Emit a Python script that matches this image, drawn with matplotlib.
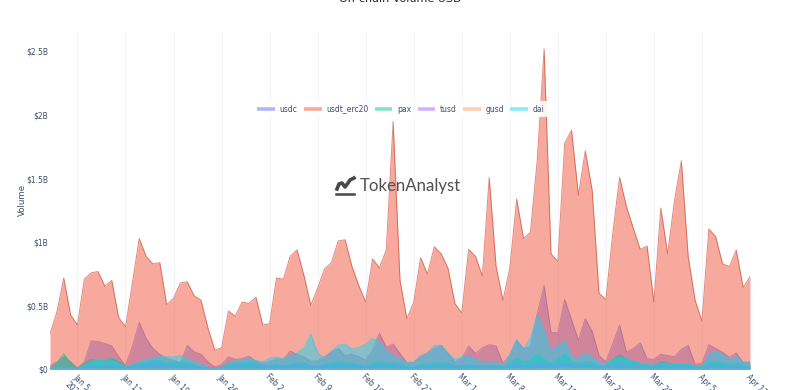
import matplotlib
matplotlib.use('Agg')
import matplotlib.pyplot as plt
import pandas as pd
from matplotlib.lines import Line2D
from matplotlib.transforms import ScaledTranslation

# Data (billions of USD, one value per day)
dates = pd.date_range('2020-01-01', '2020-04-12', freq='D')
tick_dates = pd.date_range('2020-01-05', '2020-04-12', freq='7D')
tick_labels = ['Jan 5\n2020', 'Jan 12', 'Jan 19', 'Jan 26', 'Feb 2', 'Feb 9', 'Feb 16', 'Feb 23',
               'Mar 1', 'Mar 8', 'Mar 15', 'Mar 22', 'Mar 29', 'Apr 5', 'Apr 12']
y_ticks = [0, 0.5, 1, 1.5, 2, 2.5]
y_labels = ['$0', '$0.5B', '$1B', '$1.5B', '$2B', '$2.5B']

usdc = [.03, .06, .10, .06, .01, .06, .225, .22, .205, .185,
        .10, .03, .18, .37, .245, .165, .12, .085, .075, .05,
        .19, .14, .12, .06, .02, .04, .10, .08, .085, .105,
        .065, .05, .06, .085, .08, .145, .12, .10, .065, .07,
        .10, .14, .165, .11, .12, .10, .075, .15, .285, .175,
        .20, .125, .055, .055, .10, .13, .165, .19, .125, .06,
        .085, .185, .125, .17, .195, .185, .05, .11, .23, .165,
        .18, .44, .66, .29, .29, .55, .39, .23, .40, .30,
        .11, .06, .205, .35, .135, .165, .21, .085, .08, .12,
        .11, .10, .16, .19, .04, .05, .195, .165, .135, .095,
        .13, .055, .06]
usdt_erc20 = [.28, .45, .72, .43, .35, .71, .76, .77, .655, .70,
              .41, .335, .68, 1.03, .89, .83, .84, .51, .56, .68,
              .69, .58, .545, .33, .155, .17, .46, .42, .53, .52,
              .57, .35, .36, .72, .71, .89, .94, .74, .505, .64,
              .79, .84, 1.01, 1.02, .81, .66, .53, .87, .80, .94,
              1.95, .70, .40, .53, .88, .75, .965, .91, .795, .52,
              .445, .945, .89, .735, 1.51, .81, .545, .795, 1.34, 1.03,
              1.08, 1.65, 2.52, .91, .85, 1.78, 1.88, 1.37, 1.72, 1.41,
              .60, .55, 1.07, 1.51, 1.28, 1.11, .945, .97, .53, 1.27,
              .91, 1.33, 1.64, .885, .545, .38, 1.105, 1.045, .83, .81,
              .94, .645, .73]
pax = [.01, .05, .125, .05, .01, .05, .08, .07, .07, .09,
       .06, .02, .03, .05, .06, .07, .07, .06, .05, .06,
       .05, .04, .02, .015, .01, .02, .04, .05, .05, .06,
       .05, .03, .03, .04, .03, .04, .05, .05, .03, .03,
       .04, .05, .06, .05, .05, .04, .03, .05, .06, .05,
       .05, .04, .02, .02, .04, .04, .05, .05, .05, .03,
       .03, .04, .03, .03, .03, .03, .02, .05, .09, .06,
       .07, .12, .08, .05, .08, .12, .06, .05, .06, .055,
       .03, .03, .08, .115, .085, .06, .045, .035, .03, .06,
       .05, .04, .04, .04, .02, .02, .06, .06, .05, .04,
       .05, .03, .03]
tusd = [.005, .01, .015, .01, .005, .015, .025, .03, .03, .03,
        .02, .01, .02, .03, .035, .04, .04, .035, .03, .03,
        .03, .02, .015, .01, .005, .01, .02, .03, .03, .03,
        .03, .02, .02, .025, .02, .03, .035, .03, .02, .02,
        .025, .03, .035, .035, .03, .025, .02, .03, .035, .03,
        .03, .02, .015, .015, .025, .03, .03, .03, .025, .02,
        .02, .025, .02, .02, .02, .02, .015, .03, .04, .03,
        .03, .05, .04, .03, .04, .05, .03, .03, .03, .03,
        .02, .02, .03, .04, .03, .025, .02, .02, .015, .025,
        .02, .02, .02, .02, .015, .015, .03, .03, .025, .02,
        .025, .015, .015]
gusd = [.002, .003, .004, .003, .002, .003, .005, .005, .004, .005,
        .003, .002, .003, .004, .005, .005, .005, .004, .004, .004,
        .004, .003, .002, .002, .002, .002, .003, .004, .004, .005,
        .004, .003, .003, .003, .003, .004, .004, .004, .003, .003,
        .003, .004, .005, .005, .004, .004, .003, .004, .005, .004,
        .004, .003, .002, .002, .003, .004, .004, .004, .003, .003,
        .003, .003, .003, .003, .003, .003, .002, .004, .005, .004,
        .004, .006, .006, .005, .006, .012, .008, .006, .008, .006,
        .004, .003, .004, .005, .004, .004, .003, .003, .003, .003,
        .003, .003, .003, .003, .002, .002, .004, .004, .003, .003,
        .003, .002, .002]
dai = [.01, .02, .02, .015, .01, .03, .06, .075, .065, .07,
       .05, .02, .04, .06, .08, .09, .105, .10, .10, .11,
       .09, .06, .04, .02, .01, .02, .05, .07, .075, .09,
       .07, .06, .09, .10, .085, .11, .13, .17, .28, .13,
       .09, .14, .19, .20, .16, .175, .20, .245, .22, .15,
       .11, .09, .055, .06, .11, .13, .19, .19, .13, .08,
       .10, .11, .08, .06, .06, .06, .03, .12, .235, .16,
       .25, .43, .30, .14, .19, .23, .10, .09, .13, .10,
       .05, .05, .08, .09, .09, .06, .05, .04, .035, .05,
       .045, .04, .04, .045, .025, .025, .12, .145, .12, .08,
       .10, .06, .05]

names = ['usdc', 'usdt_erc20', 'pax', 'tusd', 'gusd', 'dai']
series = [usdc, usdt_erc20, pax, tusd, gusd, dai]
colors = ['#636efa', '#EF553B', '#00cc96', '#ab63fa', '#FFA15A', '#19d3f3']
line_colors = ['#636efa', '#c8402c', '#00cc96', '#ab63fa', '#FFA15A', '#19d3f3']
text_color = '#3d4f6b'

fig = plt.figure(figsize=(8, 3.9), dpi=100)
ax = fig.add_axes([50 / 800, 20.5 / 390, 700 / 800, 337.5 / 390])

for values, color, line_color in zip(series, colors, line_colors):
    ax.fill_between(dates, values, 0, color=color, alpha=0.5, linewidth=0, zorder=3)
    ax.plot(dates, values, color=line_color, alpha=0.6, linewidth=0.7, zorder=3)

ax.set_xlim(dates[0], dates[-1])
ax.set_ylim(0, 2.653)
ax.set_xticks(tick_dates)
ax.set_xticklabels(tick_labels, rotation=-45, ha='left', va='top', rotation_mode='anchor',
                   fontsize=5.5, color=text_color, linespacing=1.3)
# nudge the slanted labels a little to the right
for label in ax.get_xticklabels():
    label.set_transform(label.get_transform() + ScaledTranslation(2.5 / 100, 0, fig.dpi_scale_trans))
ax.set_yticks(y_ticks)
ax.set_yticklabels(y_labels, fontsize=5.5, color=text_color)
ax.tick_params(axis='both', length=0)
ax.tick_params(axis='x', pad=2)
ax.tick_params(axis='y', pad=1)
ax.grid(axis='x', color='#f2f3f6', linewidth=0.8, zorder=0)
ax.set_axisbelow(True)
for side in ax.spines:
    ax.spines[side].set_visible(False)

fig.text(400 / 800, 1 - 2.5 / 390, 'On-chain Volume USD', ha='center', va='baseline',
         fontsize=8, color='#222222')
fig.text(22.5 / 800, 1 - 200 / 390, 'Volume', rotation=90, ha='center', va='center',
         fontsize=6.2, color=text_color)

# Legend
handles = [Line2D([], [], color=c, alpha=0.5, linewidth=2.6, solid_capstyle='butt') for c in colors]
leg = ax.legend(handles, names, ncol=6, loc='center', bbox_to_anchor=(351 / 700, (369.5 - 109) / 337.5),
                fontsize=5.5, frameon=True, facecolor='white', framealpha=0.9, edgecolor='none',
                handlelength=2.3, handletextpad=0.6, columnspacing=0.85, borderpad=0.5, borderaxespad=0)
leg.set_zorder(5)
for txt in leg.get_texts():
    txt.set_color(text_color)

# Logo watermark
logo_x = [337, 339, 342, 345, 348, 350, 354]
logo_y = [189, 184, 183, 187, 183, 180, 178]
fig.add_artist(Line2D([x / 800 for x in logo_x], [1 - y / 390 for y in logo_y], color='#484848',
                      linewidth=2.6, zorder=10))
fig.add_artist(Line2D([336 / 800, 354 / 800], [1 - 193.5 / 390] * 2, color='#484848', linewidth=1.8, zorder=10))
fig.text(360 / 800, 1 - 186 / 390, 'TokenAnalyst', ha='left', va='center', family='Lato',
         fontweight='normal', fontsize=12.1, color='#505050', zorder=10)

plt.savefig('out.png', dpi=100)
